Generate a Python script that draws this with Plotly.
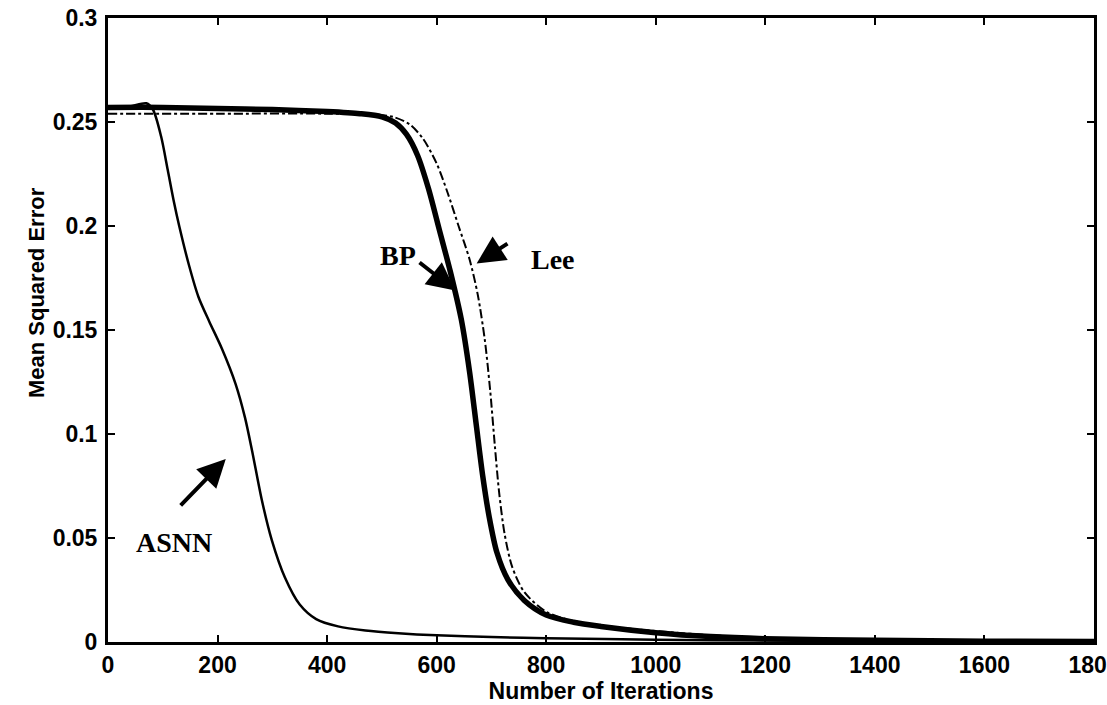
import plotly.graph_objects as go

# ASNN (thin solid)
asnn_x = [0, 40, 70, 82, 97, 109, 120, 130, 148, 165, 185, 208, 233, 250, 263, 281, 299, 323, 350, 380, 420, 470, 530, 600, 700, 800, 1000, 1200, 1400, 1600, 1800]
asnn_y = [0.2565, 0.2575, 0.259, 0.256, 0.243, 0.227, 0.212, 0.200, 0.181, 0.166, 0.154, 0.141, 0.124, 0.108, 0.092, 0.068, 0.049, 0.031, 0.018, 0.011, 0.0075, 0.0055, 0.0042, 0.0032, 0.0024, 0.0018, 0.0011, 0.0007, 0.0005, 0.0004, 0.0003]

# BP (thick solid)
bp_x = [0, 100, 200, 300, 400, 460, 500, 525, 545, 565, 585, 605, 625, 645, 660, 672, 684, 696, 710, 730, 760, 800, 850, 900, 1000, 1100, 1200, 1400, 1600, 1800]
bp_y = [0.257, 0.257, 0.2565, 0.256, 0.255, 0.254, 0.2525, 0.2495, 0.244, 0.234, 0.218, 0.198, 0.178, 0.155, 0.13, 0.105, 0.08, 0.06, 0.043, 0.03, 0.02, 0.013, 0.0095, 0.0075, 0.0045, 0.0026, 0.0016, 0.0008, 0.0004, 0.0003]

# Lee (dash-dot)
lee_x = [0, 200, 400, 480, 520, 550, 575, 600, 620, 640, 660, 675, 688, 698, 706, 714, 724, 738, 760, 800, 860, 950, 1050, 1200, 1400, 1800]
lee_y = [0.254, 0.254, 0.254, 0.2535, 0.2525, 0.249, 0.242, 0.23, 0.216, 0.2, 0.184, 0.167, 0.145, 0.12, 0.095, 0.072, 0.052, 0.036, 0.024, 0.0145, 0.0095, 0.0065, 0.0042, 0.0018, 0.0008, 0.0003]

x_ticks = [0, 200, 400, 600, 800, 1000, 1200, 1400, 1600, 1800]
y_ticks = [0, 0.05, 0.1, 0.15, 0.2, 0.25, 0.3]
y_tick_text = ["0", "0.05", "0.1", "0.15", "0.2", "0.25", "0.3"]

fig = go.Figure()
fig.add_trace(go.Scatter(x=lee_x, y=lee_y, mode="lines", name="Lee",
                         line=dict(color="black", width=2, dash="dashdot", shape="spline", smoothing=0.8)))
fig.add_trace(go.Scatter(x=bp_x, y=bp_y, mode="lines", name="BP",
                         line=dict(color="black", width=5.5, shape="spline", smoothing=0.8)))
fig.add_trace(go.Scatter(x=asnn_x, y=asnn_y, mode="lines", name="ASNN",
                         line=dict(color="black", width=2.5, shape="spline", smoothing=0.8)))

sans = "Liberation Sans, Arial, sans-serif"
tickfont = dict(family=sans, size=23, color="black", weight="bold")
axis_common = dict(showline=True, linecolor="black", linewidth=3, mirror="ticks",
                   ticks="inside", ticklen=7, tickwidth=2, tickcolor="black",
                   showgrid=False, zeroline=False, tickfont=tickfont,
                   automargin=False, ticklabeloverflow="allow")

fig.update_xaxes(range=[0, 1800], tickvals=x_ticks, ticklabelstandoff=0,
                 title=dict(text="Number of Iterations", standoff=2,
                            font=dict(family=sans, size=23, color="black", weight="bold")),
                 **axis_common)
fig.update_yaxes(range=[0, 0.3], tickvals=y_ticks, ticktext=y_tick_text, ticklabelstandoff=3,
                 **axis_common)

serif = dict(family="Liberation Serif, Times New Roman, serif", size=28, color="black", weight="bold")
arrow = dict(text="", showarrow=True, axref="x", ayref="y",
             arrowhead=2, arrowsize=1.4, arrowwidth=4, arrowcolor="black")
anns = [
    dict(x=121, y=0.0476, text="ASNN", showarrow=False, font=serif),
    dict(x=530, y=0.186, text="BP", showarrow=False, font=serif),
    dict(x=812, y=0.184, text="Lee", showarrow=False, font=serif),
    dict(x=215, y=0.088, ax=130, ay=0.065, **arrow),
    dict(x=634, y=0.169, ax=566, ay=0.183, **arrow),
    dict(x=673, y=0.182, ax=732, ay=0.192, **arrow),
    dict(xref="paper", yref="paper", x=0, xshift=-86, y=0.56, text="Mean Squared Error", textangle=-90,
         showarrow=False, font=dict(family=sans, size=22, color="black", weight="bold")),
]
fig.update_layout(width=1107, height=705, margin=dict(l=108, r=13, t=18, b=63),
                  plot_bgcolor="white", paper_bgcolor="white", showlegend=False,
                  annotations=anns)

fig.write_html("out.html")
